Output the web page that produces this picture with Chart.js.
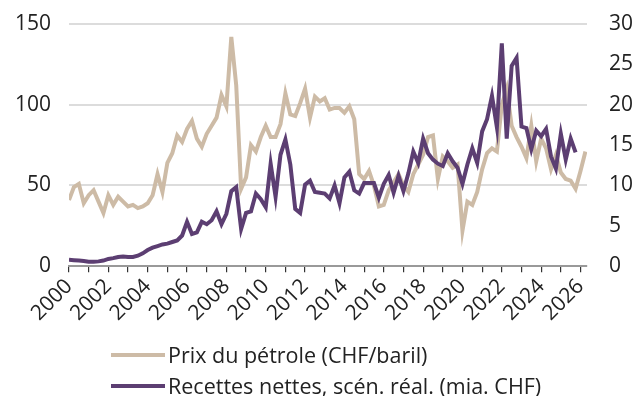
<!DOCTYPE html>
<html lang="fr">
<head>
<meta charset="utf-8">
<script src="https://cdn.jsdelivr.net/npm/chart.js@4.4.1/dist/chart.umd.min.js"></script>
<style>
  html, body { margin: 0; padding: 0; background: #fff; }
  #wrap { position: relative; width: 637px; height: 396px; }
  #legende { position: absolute; left: 111px; top: 339px; font-family: "Open Sans", sans-serif; font-size: 21.5px; color: #222; }
  .item { display: flex; align-items: center; height: 31px; white-space: nowrap; }
  .trait { width: 54px; height: 4px; margin-right: 3px; }
</style>
</head>
<body>
<div id="wrap">
  <canvas id="graphique" width="637" height="396"></canvas>
  <div id="legende"></div>
</div>
<script>
// séries trimestrielles, premier point = 2000 T1
const ANNEE_DEBUT = 2000;
const prixPetrole = [
  41, 49, 51, 39, 44, 47, 40, 33, 44, 38, 43, 40, 37, 38, 36, 37,
  39, 44, 57, 46, 64, 70, 81, 77, 85, 90, 79, 74, 82, 87, 92, 106,
  99, 142, 112, 48, 55, 75, 71, 80, 87, 80, 80, 88, 107, 94, 93, 101,
  110, 92, 105, 102, 104, 97, 98, 98, 95, 99, 91, 57, 54, 59, 50, 37,
  38, 47, 52, 57, 50, 46, 57, 63, 69, 80, 81, 54, 68, 65, 61, 63,
  22, 40, 38, 46, 60, 70, 73, 71, 100, 110, 87, 80, 74, 67, 87, 65,
  79, 73, 60, 69, 58, 54, 53, 48, 59, 71
];
const recettesNettes = [
  0.8, 0.75, 0.7, 0.65, 0.55, 0.55, 0.6, 0.7, 0.9, 1.0, 1.15, 1.2, 1.15, 1.15, 1.3, 1.6,
  2.0, 2.3, 2.5, 2.7, 2.8, 3.0, 3.2, 3.8, 5.5, 4.0, 4.2, 5.5, 5.2, 5.7, 6.8, 5.2,
  6.5, 9.3, 9.8, 4.6, 6.6, 6.8, 9.0, 8.3, 7.3, 12.7, 8.6, 13.8, 15.7, 12.6, 7.1, 6.6,
  10.1, 10.6, 9.2, 9.1, 9.0, 8.4, 10.0, 7.8, 11.0, 11.7, 9.4, 9.0, 10.3, 10.3, 10.3, 8.5,
  10.2, 11.3, 9.1, 11.2, 9.3, 11.5, 14.2, 12.8, 15.8, 14.0, 13.2, 12.7, 12.4, 14.0, 13.0, 12.2,
  10.2, 12.6, 14.6, 12.8, 16.7, 18.2, 21.1, 17.2, 27.6, 15.8, 24.8, 25.8, 17.3, 17.1, 14.5, 16.8,
  16.1, 17.0, 13.6, 12.1, 16.4, 13.2, 15.8, 14.1
];
const libelles = ['Prix du pétrole (CHF/baril)', 'Recettes nettes, scén. réal. (mia. CHF)'];
const couleurs = ['#cdbba6', '#5c3e72'];

const enPoints = vals => vals.map((v, i) => ({ x: ANNEE_DEBUT + i / 4, y: v }));
const police = { family: '"Open Sans", sans-serif', size: 21 };

new Chart(document.getElementById('graphique'), {
  type: 'line',
  data: {
    datasets: [
      { label: libelles[0], data: enPoints(prixPetrole), yAxisID: 'yGauche', borderColor: couleurs[0], borderWidth: 4, pointRadius: 0, tension: 0, order: 2 },
      { label: libelles[1], data: enPoints(recettesNettes), yAxisID: 'yDroite', borderColor: couleurs[1], borderWidth: 4, pointRadius: 0, tension: 0, order: 1 }
    ]
  },
  options: {
    responsive: false,
    animation: false,
    layout: { padding: { top: 24, bottom: 68, left: 0, right: 0 } },
    plugins: { legend: { display: false }, tooltip: { enabled: false } },
    scales: {
      x: {
        type: 'linear', min: 2000, max: 2026.33,
        grid: { drawOnChartArea: false, drawTicks: true, tickLength: 6, color: '#333', lineWidth: 1.2 },
        border: { color: '#999', width: 2 },
        ticks: {
          stepSize: 1, autoSkip: false, includeBounds: false,
          minRotation: 45, maxRotation: 45, padding: 2,
          color: '#222', font: police,
          callback: v => (v % 2 === 0 ? String(v) : '')
        }
      },
      // écart des étiquettes via des graduations invisibles (ticks.padding gonfle la marge haute)
      yGauche: {
        position: 'left', min: 0, max: 150,
        afterFit: s => { s.width = 69; },
        grid: { color: '#dcdcdc', lineWidth: 2, drawTicks: true, tickLength: 12, tickColor: 'transparent' },
        border: { display: false },
        ticks: { stepSize: 50, padding: 6, color: '#222', font: police }
      },
      yDroite: {
        position: 'right', min: 0, max: 30,
        afterFit: s => { s.width = 50; },
        grid: { drawOnChartArea: false, drawTicks: true, tickLength: 16, tickColor: 'transparent' },
        border: { display: false },
        ticks: { stepSize: 5, padding: 6, color: '#222', font: police }
      }
    }
  }
});

// légende sur deux lignes, alignée à gauche
const legende = document.getElementById('legende');
libelles.forEach((txt, i) => {
  const ligne = document.createElement('div');
  ligne.className = 'item';
  ligne.innerHTML = '<span class="trait" style="background:' + couleurs[i] + '"></span><span>' + txt + '</span>';
  legende.appendChild(ligne);
});
</script>
</body>
</html>
